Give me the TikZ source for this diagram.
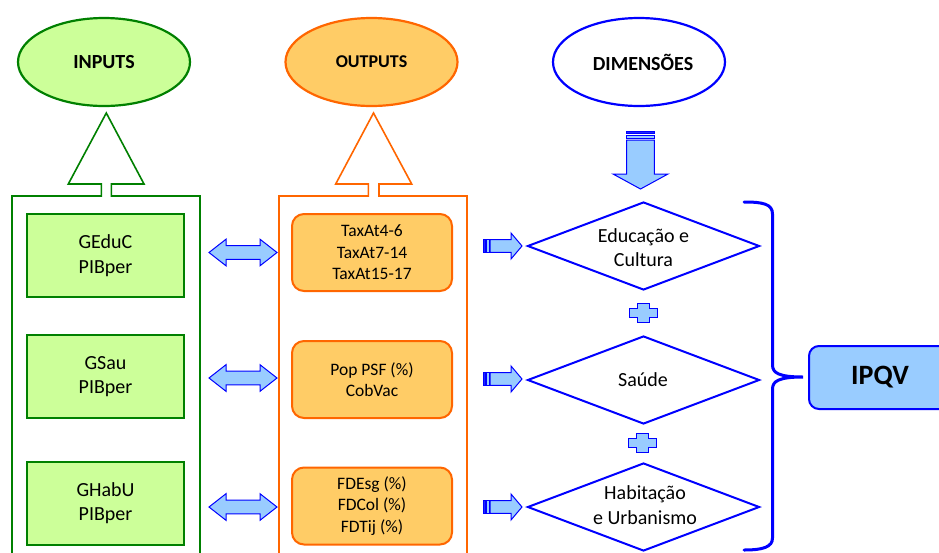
\documentclass[tikz,border=0pt]{standalone}
\usepackage{fontspec}
\setmainfont{Carlito}
\usetikzlibrary{shapes.geometric}
\definecolor{gdark}{RGB}{0,128,0}
\definecolor{glight}{RGB}{204,255,153}
\definecolor{odark}{RGB}{255,102,0}
\definecolor{olight}{RGB}{255,204,102}
\definecolor{bdark}{RGB}{0,0,255}
\definecolor{blight}{RGB}{153,204,255}
\tikzset{
  ell/.style={ellipse, minimum width=172pt, minimum height=88pt, inner sep=0pt, line width=2.2pt},
  gbox/.style={draw=gdark, fill=glight, line width=2pt, minimum width=157pt, minimum height=83pt, align=center, inner sep=0pt, font=\fontsize{20}{24.5}\selectfont},
  obox/.style={draw=odark, fill=olight, line width=2pt, rounded corners=12pt, minimum width=160pt, minimum height=77pt, align=center, inner sep=0pt, font=\fontsize{17.5}{21.5}\selectfont},
  dia/.style={diamond, draw=bdark, line width=2pt, minimum width=232pt, minimum height=88pt, inner sep=0pt},
  diatext/.style={align=center, inner sep=0pt, font=\fontsize{20}{24.5}\selectfont},
  arrowsty/.style={draw=bdark, fill=blight, line width=1pt, line join=miter},
  frame/.style={line width=1.6pt, line join=miter},
  dblarr/.pic={\path[arrowsty] (-34,0) -- (-17,-13.3) -- (-17,-6.8) -- (17,-6.8) -- (17,-13.3) -- (34,0) -- (17,13.3) -- (17,6.8) -- (-17,6.8) -- (-17,13.3) -- cycle;},
  strarr/.pic={
    \path[draw=bdark, fill=bdark!80!blight, line width=0.6pt] (0,-6.3) rectangle (2.5,6.3);
    \path[draw=bdark, fill=blight, line width=0.6pt] (3.6,-6.3) rectangle (6.2,6.3);
    \path[arrowsty] (7,-6.3) -- (28,-6.3) -- (28,-13) -- (39,0) -- (28,13) -- (28,6.3) -- (7,6.3) -- cycle;},
  downarr/.pic={
    \path[draw=bdark, fill=bdark!80!blight, line width=0.6pt] (-13.8,0) rectangle (13.8,2.5);
    \path[draw=bdark, fill=blight, line width=0.6pt] (-13.8,3.8) rectangle (13.8,7);
    \path[arrowsty] (-13.8,9) -- (13.8,9) -- (13.8,43) -- (27.5,43) -- (0,58) -- (-27.5,43) -- (-13.8,43) -- cycle;},
  plussign/.pic={\path[arrowsty] (-6,-9.5) -- (6,-9.5) -- (6,-4.5) -- (14,-4.5) -- (14,4.5) -- (6,4.5) -- (6,9.5) -- (-6,9.5) -- (-6,4.5) -- (-14,4.5) -- (-14,-4.5) -- (-6,-4.5) -- cycle;}
}
\begin{document}
\begin{tikzpicture}[x=1pt, y=-1pt]
\useasboundingbox (0,0) rectangle (939,552);
\clip (0,0) rectangle (939,552);
\fill[white] (0,0) rectangle (939,552);

% top ellipses
\node[ell, draw=gdark, fill=glight, font=\bfseries\fontsize{20}{24}\selectfont] (inputs) at (104,62) {INPUTS};
\node[ell, draw=odark, fill=olight, font=\bfseries\fontsize{18}{22}\selectfont] (outputs) at (371.5,62) {OUTPUTS};
\node[ell, draw=bdark, fill=white, font=\bfseries\fontsize{20}{24}\selectfont] (dimensoes) at (639,62) {\hspace{8pt}DIMENSÕES};

% frames with hollow up arrows
\draw[frame, draw=gdark] (12,570) -- (12,196) -- (101.3,196) -- (101.3,184) -- (68.3,184) -- (106.3,113) -- (144,184) -- (111.3,184) -- (111.3,196) -- (200,196) -- (200,570);
\draw[frame, draw=odark] (279,570) -- (279,196) -- (368.3,196) -- (368.3,184) -- (335.7,184) -- (373.5,113) -- (411.7,184) -- (379,184) -- (379,196) -- (467,196) -- (467,570);

% input boxes
\node[gbox] (g1) at (105.5,255.5) {GEduC\\PIBper};
\node[gbox] (g2) at (105.5,376.5) {GSau\\PIBper};
\node[gbox] (g3) at (105.5,503) {GHabU\\PIBper};

% output boxes
\node[obox] (o1) at (372,252.5) {TaxAt4-6\\TaxAt7-14\\TaxAt15-17};
\node[obox] (o2) at (372,379.5) {Pop PSF (\%)\\CobVac};
\node[obox] (o3) at (372,506) {FDEsg (\%)\\FDCol (\%)\\FDTij (\%)};

% double arrows
\pic at (243,252.5) {dblarr};
\pic at (243,378) {dblarr};
\pic at (243,507) {dblarr};

% striped arrows
\pic at (483,246) {strarr};
\pic at (483,379) {strarr};
\pic at (483,507) {strarr};

% down arrow
\pic at (640.5,131) {downarr};

% diamonds
\node[dia] (d1) at (643.5,246) {};
\node[diatext] (t1) at (643.5,247.5) {Educação e\\Cultura};
\node[dia] (d2) at (643.5,380) {};
\node[diatext] (t2) at (643,380) {Saúde};
\node[dia] (d3) at (643.5,507) {};
\node[diatext] (t3) at (645,505) {Habitação\\e Urbanismo};

% plus signs
\pic at (643,313) {plussign};
\pic at (642,443) {plussign};

% brace
\draw[draw=bdark, line width=3pt, line cap=round] (744,202) .. controls (763,202) and (772.5,204) .. (772.5,214) -- (772.5,365) .. controls (772.5,373) and (779,377) .. (803,377) .. controls (779,377) and (772.5,381) .. (772.5,389) -- (772.5,538) .. controls (772.5,547) and (763,550) .. (744,550);

% result
\node[draw=bdark, fill=blight, line width=2pt, rounded corners=10pt, minimum width=142pt, minimum height=63pt, inner sep=0pt, font=\bfseries\fontsize{28}{32}\selectfont] (ipqv) at (880,377.5) {IPQV};
\end{tikzpicture}
\end{document}
